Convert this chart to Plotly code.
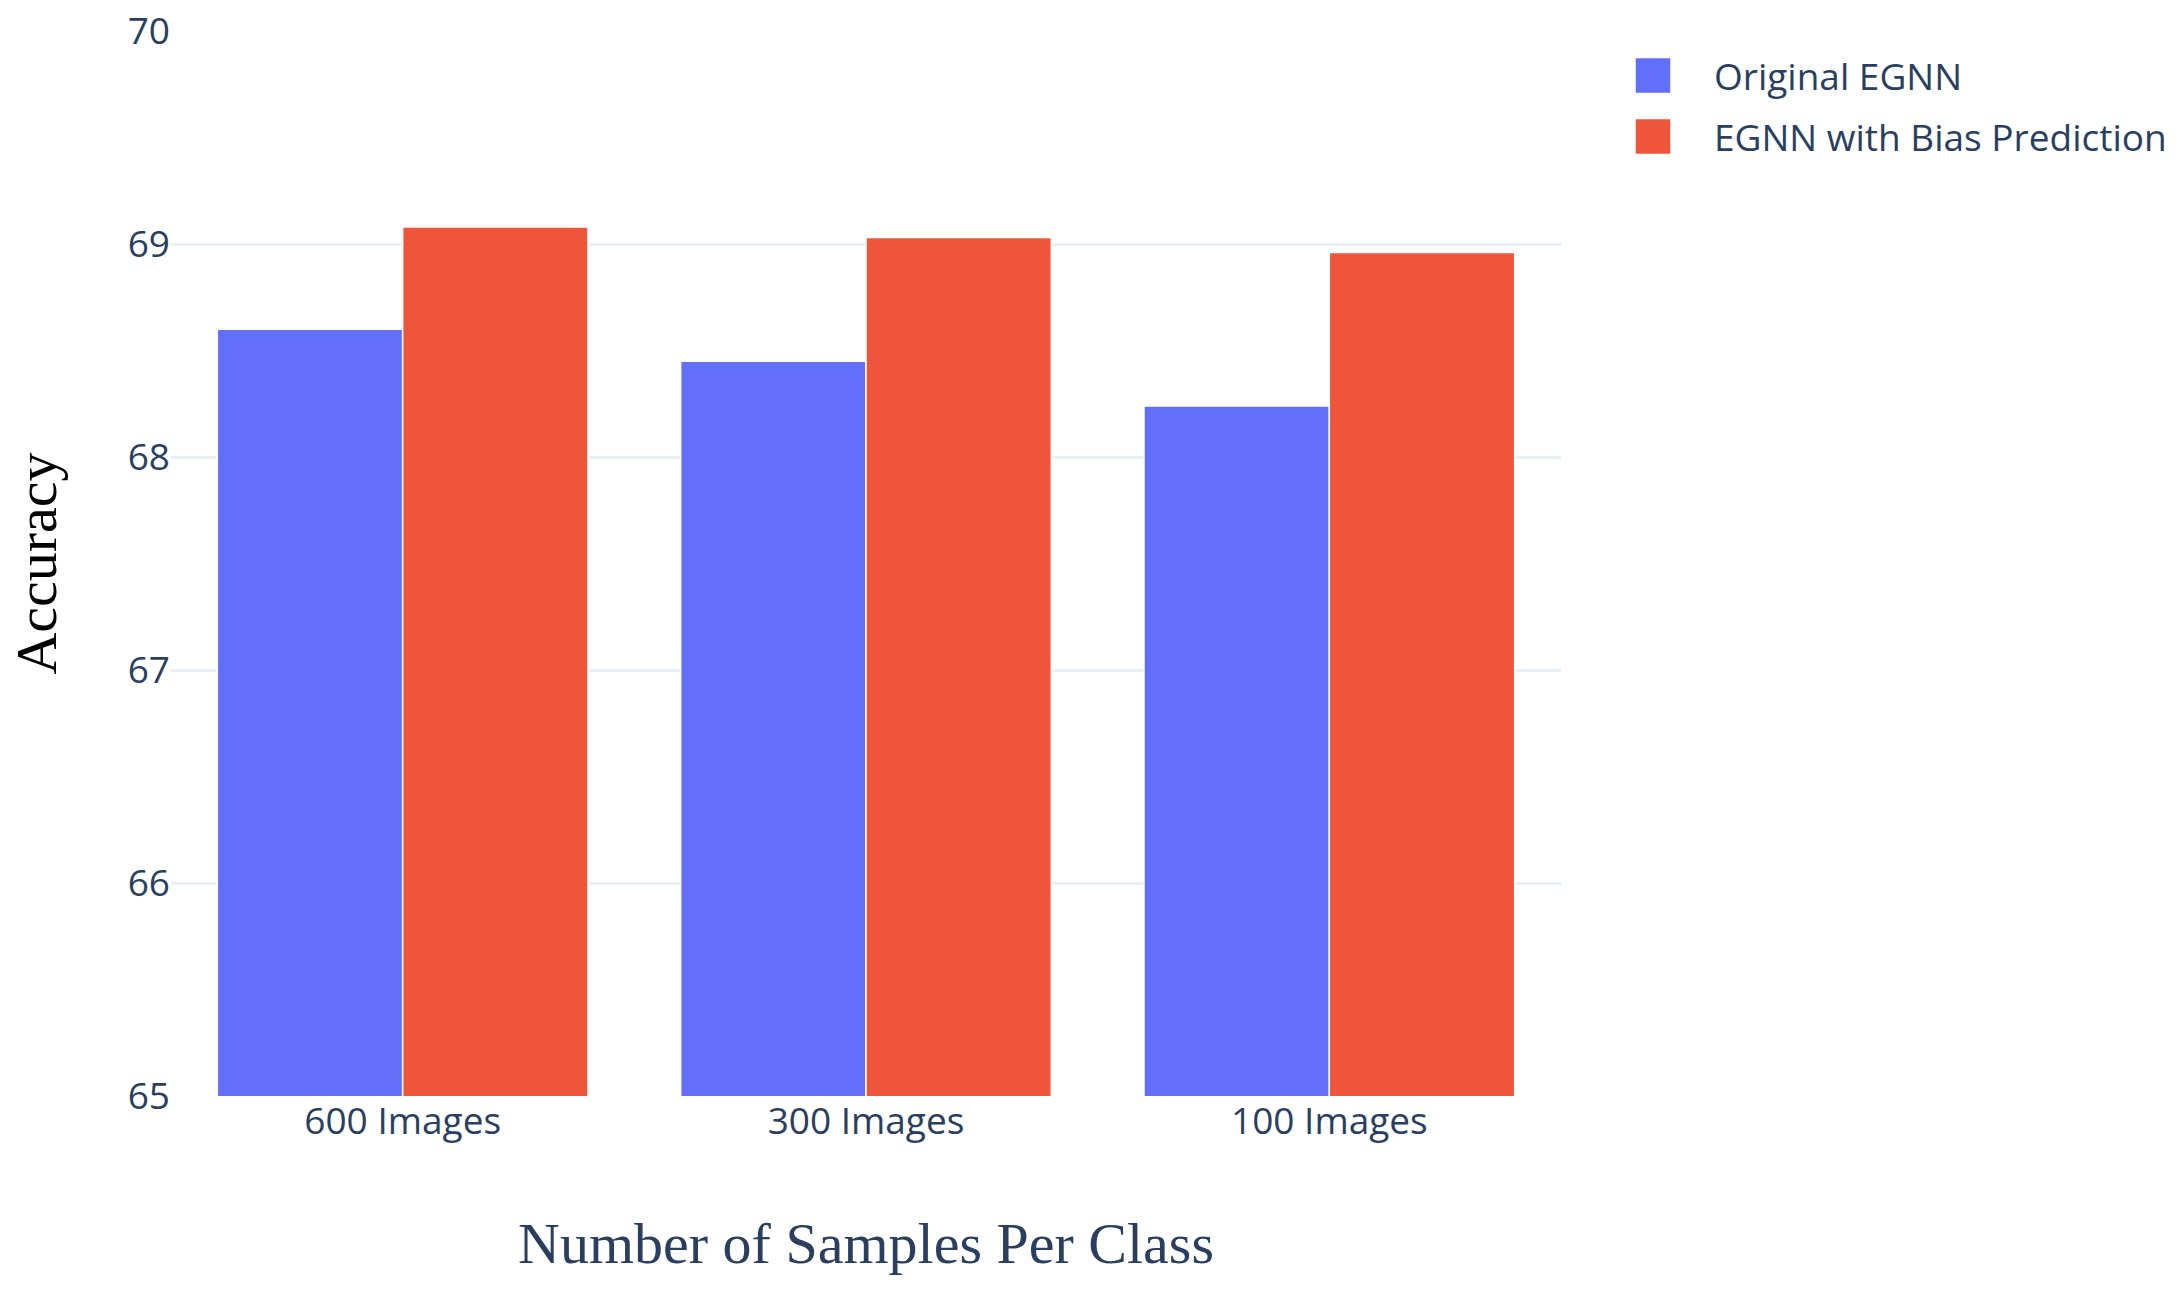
import plotly.graph_objects as go

categories = ["600 Images", "300 Images", "100 Images"]
original_egnn = [68.60, 68.45, 68.24]
egnn_bias = [69.08, 69.03, 68.96]
y_ticks = [65, 66, 67, 68, 69, 70]

W, H = 2176, 1294
L, R, T, B = 171, 615, 31, 198

fig = go.Figure()
fig.add_trace(go.Bar(name="Original EGNN", x=categories, y=original_egnn,
                     marker=dict(color="#636EFA", line=dict(color="white", width=1.5)),
                     legendgroup="a"))
fig.add_trace(go.Bar(name="EGNN with Bias Prediction", x=categories, y=egnn_bias,
                     marker=dict(color="#EF553B", line=dict(color="white", width=1.5)),
                     legendgroup="b"))

fig.update_layout(
    template="plotly_white",
    width=W, height=H,
    margin=dict(l=L, r=R, t=T, b=B, autoexpand=False),
    barmode="group",
    font=dict(family="Open Sans, verdana, arial, sans-serif", size=37, color="#2a3f5f"),
    legend=dict(x=(1614 - L) / (W - L - R), xanchor="left", y=0.987, yanchor="top",
                tracegroupgap=10, itemwidth=90, font=dict(size=37)),
    xaxis=dict(
        title=dict(text="Number of Samples Per Class",
                   font=dict(family="Liberation Serif, Times New Roman, serif", size=58, color="#2a3f5f"),
                   standoff=78),
        tickfont=dict(size=37),
        showgrid=False,
    ),
    yaxis=dict(
        title=dict(text="Accuracy",
                   font=dict(family="Liberation Serif, Times New Roman, serif", size=58, color="black"),
                   standoff=52),
        range=[65, 70],
        tickvals=y_ticks,
        tickfont=dict(size=37),
        ticklabeloverflow="allow",
        gridcolor="#EBF0F8", gridwidth=3,
        zeroline=False,
    ),
)

post_js = """
(function(){
  document.body.style.margin = '0';
  var gd = document.getElementById('{plot_id}');
  function bigSymbols(){
    var items = gd.querySelectorAll('.legend .traces');
    items.forEach(function(item){
      var p = item.querySelector('.legendpoints path');
      var t = item.querySelector('.legendtext');
      if (!p || !t) return;
      p.removeAttribute('transform');
      var pr = p.getBoundingClientRect();
      var tr = t.getBoundingClientRect();
      var bb = p.getBBox();
      var cx = bb.x + bb.width / 2, cy = bb.y + bb.height / 2;
      var dx = (tr.left - 61) - (pr.left + pr.width / 2);
      p.setAttribute('transform',
        'translate(' + dx + ',0) translate(' + cx + ',' + cy + ') scale(3) translate(' + (-cx) + ',' + (-cy) + ')');
      p.style.strokeWidth = '0.5px';
    });
  }
  bigSymbols();
  setTimeout(bigSymbols, 0);
  if (gd.on) { gd.on('plotly_afterplot', function(){ setTimeout(bigSymbols, 0); }); }
})();
"""

fig.write_html("out.html", post_script=post_js, config={"displayModeBar": False})
